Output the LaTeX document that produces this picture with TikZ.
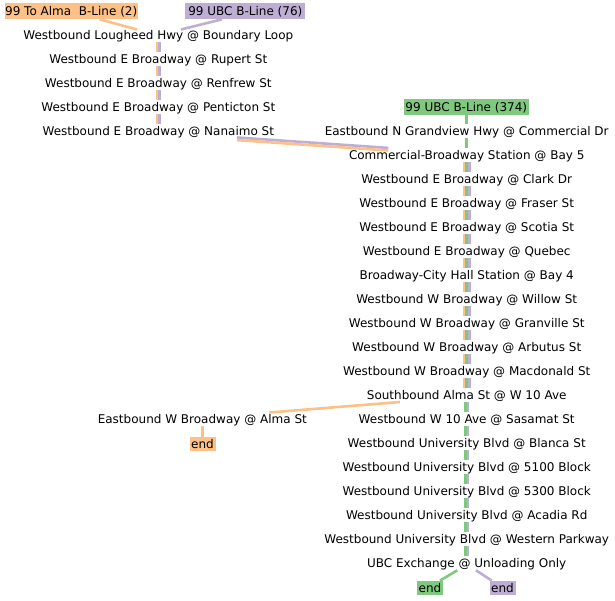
\documentclass[tikz,border=0pt]{standalone}
\usepackage{fontspec}
\setmainfont{DejaVu Sans}
\usetikzlibrary{calc}
\definecolor{lorange}{HTML}{FDC086}
\definecolor{lpurple}{HTML}{BEAED4}
\definecolor{lgreen}{HTML}{7FC97F}
\begin{document}
\begin{tikzpicture}[x=1pt,y=-1pt,
  stop/.style={inner sep=0pt, text height=8.6pt, text depth=0pt, font=\fontsize{12}{14}\selectfont},
  hdr/.style={stop, fill=#1, minimum height=16pt},
  endbox/.style={stop, fill=#1, minimum height=14.5pt, minimum width=26pt},
  route/.style={line width=2.6pt, draw=#1},
]
\useasboundingbox (0,0) rectangle (615,600);

% headers
\node[hdr=lorange, minimum width=133pt] (halma) at (71.2,11.3) {99 To Alma\ \ B-Line (2)};
\node[hdr=lpurple, minimum width=120pt] (hubc) at (245.3,11.3) {99 UBC B-Line (76)};
\node[hdr=lgreen, minimum width=124.5pt] (hubcb) at (466.3,107.3) {99 UBC B-Line (374)};

% left column
\node[stop] (l1) at (158.3,35) {Westbound Lougheed Hwy @ Boundary Loop};
\node[stop] (l2) at (158.3,59) {Westbound E Broadway @ Rupert St};
\node[stop] (l3) at (158.3,83) {Westbound E Broadway @ Renfrew St};
\node[stop] (l4) at (158.3,107) {Westbound E Broadway @ Penticton St};
\node[stop] (l5) at (158.3,131) {Westbound E Broadway @ Nanaimo St};

% right column
\node[stop] (r1) at (466.7,131) {Eastbound N Grandview Hwy @ Commercial Dr};
\node[stop] (r2) at (466.7,155) {Commercial-Broadway Station @ Bay 5};
\node[stop] (r3) at (466.7,179) {Westbound E Broadway @ Clark Dr};
\node[stop] (r4) at (466.7,203) {Westbound E Broadway @ Fraser St};
\node[stop] (r5) at (466.7,227) {Westbound E Broadway @ Scotia St};
\node[stop] (r6) at (466.7,251) {Westbound E Broadway @ Quebec};
\node[stop] (r7) at (466.7,275) {Broadway-City Hall Station @ Bay 4};
\node[stop] (r8) at (466.7,299) {Westbound W Broadway @ Willow St};
\node[stop] (r9) at (466.7,323) {Westbound W Broadway @ Granville St};
\node[stop] (r10) at (466.7,347) {Westbound W Broadway @ Arbutus St};
\node[stop] (r11) at (466.7,371) {Westbound W Broadway @ Macdonald St};
\node[stop] (r12) at (466.7,395) {Southbound Alma St @ W 10 Ave};
\node[stop] (r13) at (466.7,419) {Westbound W 10 Ave @ Sasamat St};
\node[stop] (r14) at (466.7,443) {Westbound University Blvd @ Blanca St};
\node[stop] (r15) at (466.7,467) {Westbound University Blvd @ 5100 Block};
\node[stop] (r16) at (466.7,491) {Westbound University Blvd @ 5300 Block};
\node[stop] (r17) at (466.7,515) {Westbound University Blvd @ Acadia Rd};
\node[stop] (r18) at (466.7,539) {Westbound University Blvd @ Western Parkway};
\node[stop] (r19) at (466.7,563) {UBC Exchange @ Unloading Only};

% alma branch
\node[stop] (alma) at (202.3,419) {Eastbound W Broadway @ Alma St};
\node[endbox=lorange] (endo) at (202.5,444) {end};
\node[endbox=lgreen] (endg) at (430,587.8) {end};
\node[endbox=lpurple] (endp) at (502.5,587.8) {end};

% header edges
\draw[route=lorange] ($(halma)+(28.3,8)$) -- ($(l1)+(-21.3,-5.5)$);
\draw[route=lpurple] ($(hubc)+(-23.3,8)$) -- ($(l1)+(22.7,-5.5)$);
\draw[route=lgreen] ($(hubcb)+(0.4,8)$) -- ($(r1)+(0,-7)$);
\draw[route=lgreen] ($(r1)+(0,7)$) -- ($(r2)+(0,-7)$);

% left column edges
\foreach \a/\b in {l1/l2,l2/l3,l3/l4,l4/l5}{
  \draw[route=lorange] ($(\a)+(-1.33,6.8)$) -- ($(\b)+(-1.33,-6.8)$);
  \draw[route=lpurple] ($(\a)+(1.33,6.8)$) -- ($(\b)+(1.33,-6.8)$);
}

% Nanaimo to Commercial-Broadway
\draw[route=lpurple] ($(l5)+(78.7,6.5)$) -- ($(r2)+(-78.4,-7.1)$);
\draw[route=lorange] ($(l5)+(78.7,9.1)$) -- ($(r2)+(-78.4,-4.5)$);

% right column, three routes
\foreach \a/\b in {r2/r3,r3/r4,r4/r5,r5/r6,r6/r7,r7/r8,r8/r9,r9/r10,r10/r11,r11/r12}{
  \draw[route=lorange] ($(\a)+(-2.67,6.8)$) -- ($(\b)+(-2.67,-6.8)$);
  \draw[route=lgreen] ($(\a)+(0,6.8)$) -- ($(\b)+(0,-6.8)$);
  \draw[route=lpurple] ($(\a)+(2.67,6.8)$) -- ($(\b)+(2.67,-6.8)$);
}
% right column, two routes
\foreach \a/\b in {r12/r13,r13/r14,r14/r15,r15/r16,r16/r17,r17/r18,r18/r19}{
  \draw[route=lgreen] ($(\a)+(-1.33,6.8)$) -- ($(\b)+(-1.33,-6.8)$);
  \draw[route=lpurple] ($(\a)+(1.33,6.8)$) -- ($(\b)+(1.33,-6.8)$);
}

% branch to Alma
\draw[route=lorange] ($(r12)+(-66.7,7)$) -- ($(alma)+(67,-6.5)$);
\draw[route=lorange] ($(alma)+(0.2,7)$) -- ($(endo)+(0,-7.2)$);

% ends at UBC
\draw[route=lgreen] ($(r19)+(-9.4,7.3)$) -- ($(endg)+(10,-7.2)$);
\draw[route=lpurple] ($(r19)+(9.3,7.3)$) -- ($(endp)+(-10.8,-7.2)$);
\end{tikzpicture}
\end{document}
